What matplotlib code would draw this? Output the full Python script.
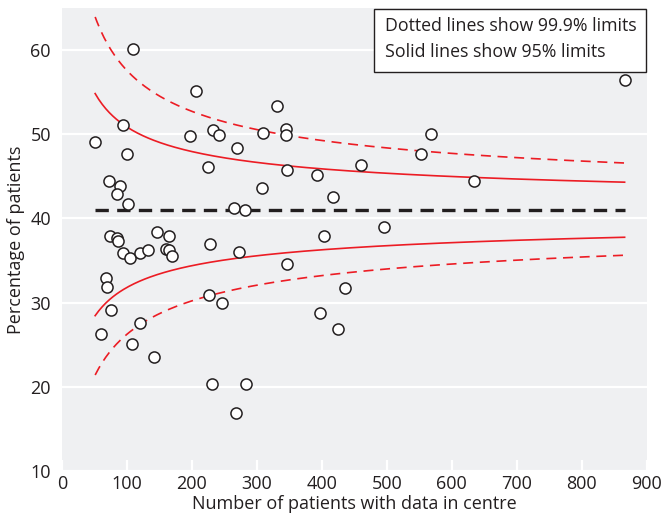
import numpy as np
import matplotlib.pyplot as plt
from matplotlib.patches import Rectangle

plt.rcParams['font.family'] = ['Open Sans', 'DejaVu Sans']

# centre size (number of patients) and percentage
n_patients = [51, 110, 94, 100, 72, 89, 84, 101, 74, 85, 86, 94, 105, 120, 133,
              146, 164, 160, 164, 169, 67, 69, 76, 60, 120, 108, 142,
              206, 197, 233, 241, 270, 224, 265, 281, 228, 273, 227, 247,
              231, 283, 268, 308, 310, 331, 344, 345, 346, 347,
              392, 403, 417, 397, 425, 435, 460, 495, 552, 568, 634, 866]
pct = [49.1, 60.1, 51.1, 47.6, 44.5, 43.9, 42.9, 41.7, 37.9, 37.7, 37.3, 35.9, 35.3, 35.9, 36.2,
       38.4, 37.9, 36.4, 36.3, 35.6, 32.9, 31.9, 29.1, 26.3, 27.6, 25.1, 23.5,
       55.2, 49.8, 50.5, 49.9, 48.4, 46.1, 41.2, 41.0, 37.0, 36.0, 30.9, 30.0,
       20.3, 20.3, 16.9, 43.6, 50.1, 53.4, 50.6, 49.9, 45.8, 34.6,
       45.2, 37.9, 42.5, 28.8, 26.9, 31.8, 46.4, 39.0, 47.7, 50.0, 44.5, 56.4]

overall_pct = 41.0
z_95 = 1.96
z_999 = 3.29
note_lines = ['Dotted lines show 99.9% limits', 'Solid lines show 95% limits']

# funnel limits on the logit scale
p0 = overall_pct / 100
n_line = np.linspace(min(n_patients), max(n_patients), 300)
se = 1 / np.sqrt(n_line * p0 * (1 - p0))
lp0 = np.log(p0 / (1 - p0))


def inv_logit(v):
    return 100 / (1 + np.exp(-v))


red = '#ec1c24'
ink = '#231f20'
fig = plt.figure(figsize=(6.62, 5.24), dpi=100)
ax = fig.add_axes([0.0937, 0.1011, 0.8832, 0.8836])
ax.set_facecolor('#eff0f2')
for s in ax.spines.values():
    s.set_visible(False)

ax.set_xlim(0, 900)
ax.set_ylim(10, 65)
ax.set_xticks(range(0, 901, 100))
ax.set_yticks(range(10, 61, 10))
ax.grid(axis='y', color='white', linewidth=1.6)
ax.set_axisbelow(True)
ax.tick_params(axis='x', direction='in', length=8, width=1.6, color='white',
               labelsize=13, pad=3, labelcolor=ink)
ax.tick_params(axis='y', length=0, labelsize=13, pad=8, labelcolor=ink)

ax.plot(n_line, inv_logit(lp0 + z_95 * se), color=red, lw=1.2)
ax.plot(n_line, inv_logit(lp0 - z_95 * se), color=red, lw=1.2)
ax.plot(n_line, inv_logit(lp0 + z_999 * se), color=red, lw=1.2, dashes=(6, 4))
ax.plot(n_line, inv_logit(lp0 - z_999 * se), color=red, lw=1.2, dashes=(6, 4))
ax.plot([min(n_patients), max(n_patients)], [overall_pct, overall_pct],
        color=ink, lw=2.4, dashes=(4, 2.5))

ax.plot(n_patients, pct, 'o', ms=8, mfc='white', mec=ink, mew=1.1, zorder=5)

ax.set_xlabel('Number of patients with data in centre', fontsize=13, color=ink, labelpad=1)
ax.set_ylabel('Percentage of patients', fontsize=13, color=ink, labelpad=4)

# note box in the top right corner
ax.add_patch(Rectangle((0.534, 0.862), 0.464, 0.136, transform=ax.transAxes,
                       fc='white', ec=ink, lw=1.0, zorder=6, clip_on=False))
ax.text(0.553, 0.962, note_lines[0], transform=ax.transAxes, ha='left', va='center',
        fontsize=12.8, color=ink, zorder=7)
ax.text(0.553, 0.904, note_lines[1], transform=ax.transAxes, ha='left', va='center',
        fontsize=12.8, color=ink, zorder=7)

fig.savefig('out.png', dpi=100)
